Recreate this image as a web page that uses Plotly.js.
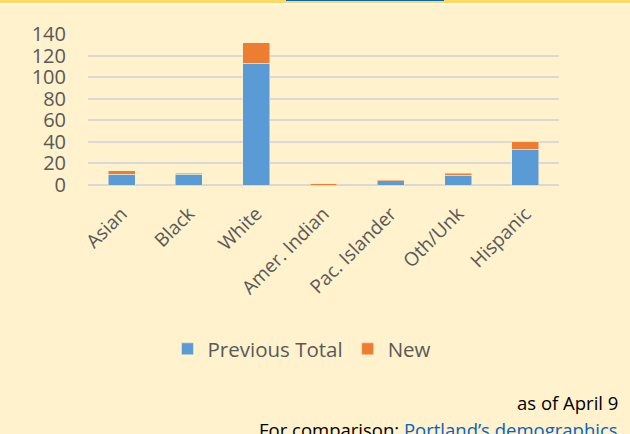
<!DOCTYPE html>
<html>
<head>
<meta charset="utf-8">
<script src="https://cdn.plot.ly/plotly-3.0.1.min.js"></script>
<style>html,body{margin:0;padding:0;background:#FFF2CC;}#chart{width:630px;height:434px;}</style>
</head>
<body>
<div id="chart"></div>
<script>
const categories = ["Asian", "Black", "White", "Amer. Indian", "Pac. Islander", "Oth/Unk", "Hispanic"];
const previousTotal = [10, 10, 113, 0, 4, 9, 33];
const newCases = [3, 1, 19, 1, 1, 2, 7];
const yTicks = [0, 20, 40, 60, 80, 100, 120, 140];

const gray = "#595959";
const traces = [
  {type: "bar", name: "Previous Total", x: categories, y: previousTotal,
   marker: {color: "#5B9BD5", line: {color: "#FFF2CC", width: 0.5}}},
  {type: "bar", name: "New", x: categories, y: newCases,
   marker: {color: "#ED7D31", line: {color: "#FFF2CC", width: 0.5}}}
];

const py = p => 1 + (34 - p) / 151;
const px = p => (p - 88) / 471;

const layout = {
  width: 630, height: 434,
  paper_bgcolor: "#FFF2CC", plot_bgcolor: "#FFF2CC",
  barmode: "stack", bargap: 0.6,
  margin: {l: 88, r: 71, t: 34, b: 249},
  font: {family: "Open Sans, sans-serif", color: gray},
  xaxis: {tickangle: -45, tickfont: {size: 19, color: gray}, showgrid: false,
          showline: false, ticks: "", automargin: false, ticklabelstandoff: 13},
  yaxis: {range: [0, 140], tickvals: yTicks, ticktext: yTicks.map(String),
          tickfont: {size: 20, color: gray}, showgrid: true, gridcolor: "#D9D9D9", gridwidth: 2,
          zeroline: true, zerolinecolor: "#D9D9D9", zerolinewidth: 2,
          ticklabelstandoff: 21, automargin: false},
  showlegend: true,
  legend: {orientation: "h", x: px(302), xanchor: "center", y: py(349), yanchor: "middle",
           font: {size: 20.5, color: gray}, traceorder: "normal", itemwidth: 30,
           bgcolor: "rgba(0,0,0,0)"},
  shapes: [
    {type: "rect", xref: "paper", yref: "paper", x0: -1, x1: 2, y0: py(3), y1: py(-5),
     fillcolor: "#FFD966", line: {width: 0}, layer: "above"},
    {type: "rect", xref: "paper", yref: "paper", x0: -1, x1: 2, y0: py(4.5), y1: py(3),
     fillcolor: "#FFFFFF", line: {width: 0}, layer: "above"},
    {type: "line", xref: "paper", yref: "paper", x0: px(286), x1: px(444), y0: py(0.5), y1: py(0.5),
     line: {color: "#0563C1", width: 1.2}, layer: "above"}
  ],
  annotations: [
    {xref: "paper", yref: "paper", x: px(620), y: py(402), xanchor: "right", yanchor: "middle",
     text: "as of April 9", showarrow: false, font: {size: 18.5, color: "#000000"}},
    {xref: "paper", yref: "paper", x: px(620), y: py(429), xanchor: "right", yanchor: "middle",
     text: "For comparison: <span style=\"color:#0563C1\">Portland’s demographics</span>", showarrow: false,
     font: {size: 18.5, color: "#000000"}}
  ]
};

Plotly.newPlot("chart", traces, layout, {displayModeBar: false, staticPlot: true});
</script>
</body>
</html>
